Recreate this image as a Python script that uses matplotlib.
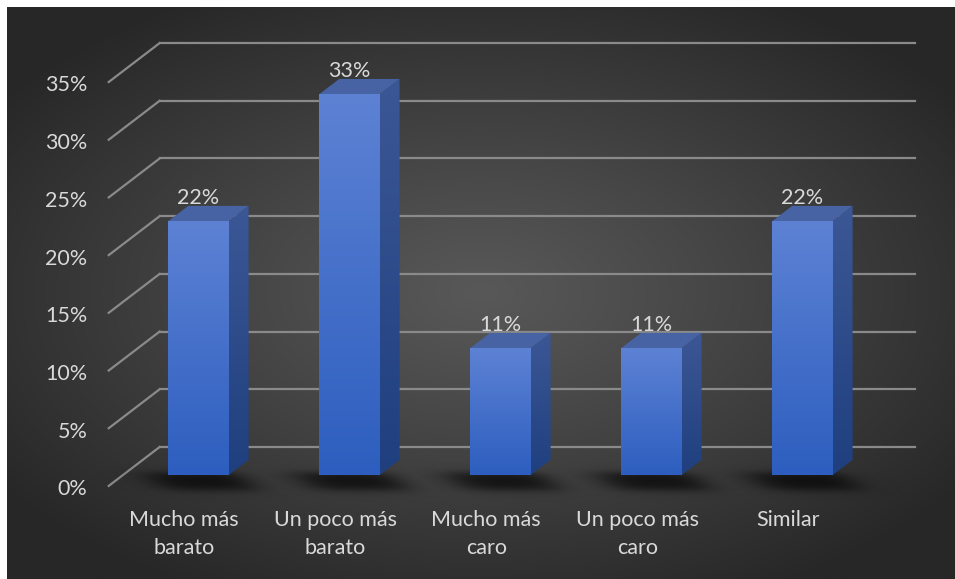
import numpy as np
import matplotlib.pyplot as plt
from matplotlib.patches import Polygon

categories = ["Mucho más\nbarato", "Un poco más\nbarato", "Mucho más\ncaro",
              "Un poco más\ncaro", "Similar"]
values = [22, 33, 11, 11, 22]
ticks = [0, 5, 10, 15, 20, 25, 30, 35]

plt.rcParams['font.family'] = ['Lato', 'DejaVu Sans']
text_color = "#d9d9d9"
grid_color = "#8a8a8a"

W, H = 955, 579
fig = plt.figure(figsize=(W / 100, H / 100), dpi=100, facecolor="white")

# dark radial backdrop
bg = fig.add_axes([7 / W, 0, (W - 7) / W, (H - 7) / H])
gx, gy = np.meshgrid(np.linspace(-1, 1, 400), np.linspace(-1, 1, 260))
r = np.clip(np.sqrt((gx * 1.0) ** 2 + (gy * 1.05) ** 2) / 1.25, 0, 1)
inner = np.array([0x58, 0x58, 0x58]) / 255
outer = np.array([0x27, 0x27, 0x27]) / 255
img = inner + (outer - inner) * r[..., None] ** 1.1
bg.imshow(img, aspect="auto", extent=[0, 1, 0, 1])
bg.axis("off")

# main axes: x in category units, y in percent on the bar front plane
cat_px = 151.0
pct_px = 11.54
x0_px, y0_px = 198.5, 104.0
ax = fig.add_axes([0, 0, 1, 1])
ax.set_xlim(-x0_px / cat_px, (W - x0_px) / cat_px)
ax.set_ylim(-y0_px / pct_px, (H - y0_px) / pct_px)
ax.axis("off")
ax.patch.set_alpha(0)

# oblique depth vector (one full depth unit)
DX = 51 / cat_px
DY = 39 / pct_px
d_front, d_back = -0.28, 0.72
bar_w, bar_d = 0.40, 0.39
left, right = -0.5, len(categories) - 0.5

# walls: gridlines on the back wall plus the left-side diagonals
for t in ticks:
    ax.plot([left + DX * d_back, right + DX * d_back],
            [t + DY * d_back, t + DY * d_back], color=grid_color, lw=1.6, zorder=1)
    ax.plot([left + DX * d_front, left + DX * d_back],
            [t + DY * d_front, t + DY * d_back], color=grid_color, lw=1.6, zorder=1)
    ax.text(left + DX * d_front - 0.14, t + DY * d_front - 0.3, f"{t}%",
            ha="right", va="center", fontsize=15.5, color=text_color)

# soft floor shadows under the bars
sx = np.linspace(-1.2, 5.0, 900)
sy = np.linspace(-4.0, 3.0, 200)
SX, SY = np.meshgrid(sx, sy)
depth = -SY / DY
floor_x = SX - DX * depth
alpha = np.zeros_like(SX)


def soft(v, w):
    return 1 / (1 + np.exp(-v / w))


for i in range(len(values)):
    a = (soft(floor_x - (i - bar_w / 2 - 0.15), 0.07)
         * soft((i + bar_w / 2 + 0.06) - floor_x, 0.06)
         * soft(depth - (-0.05), 0.05)
         * soft((bar_d + 0.0) - depth, 0.06))
    alpha = np.maximum(alpha, a)
shadow = np.zeros(SX.shape + (4,))
shadow[..., 3] = alpha * 0.7
ax.imshow(shadow, extent=[sx[0], sx[-1], sy[0], sy[-1]], origin="lower",
          aspect="auto", zorder=2, interpolation="bilinear")

front_top = np.array([0x5d, 0x82, 0xd4]) / 255
front_bot = np.array([0x2d, 0x5e, 0xbf]) / 255
side_top = np.array([0x3c, 0x57, 0x96]) / 255
side_bot = np.array([0x1f, 0x3f, 0x7e]) / 255
top_col = "#4763a3"

grad = np.linspace(0, 1, 256)[:, None, None]
front_img = front_top + (front_bot - front_top) * grad
side_img = side_top + (side_bot - side_top) * grad

for i, v in enumerate(values):
    x1, x2 = i - bar_w / 2, i + bar_w / 2
    ox, oy = DX * bar_d, DY * bar_d
    # right side face
    side = Polygon([(x2, 0), (x2 + ox, oy), (x2 + ox, v + oy), (x2, v)],
                   closed=True, facecolor="none", edgecolor="none", zorder=3)
    ax.add_patch(side)
    im = ax.imshow(np.repeat(side_img, 4, axis=1), extent=[x2, x2 + ox, 0, v + oy],
                   aspect="auto", zorder=3)
    im.set_clip_path(side)
    # top face
    ax.add_patch(Polygon([(x1, v), (x2, v), (x2 + ox, v + oy), (x1 + ox, v + oy)],
                         closed=True, facecolor=top_col, edgecolor="none", zorder=3))
    # front face
    ax.imshow(np.repeat(front_img, 4, axis=1), extent=[x1, x2, 0, v],
              aspect="auto", zorder=4)
    ax.text(i, v + oy + 0.2, f"{v}%", ha="center", va="baseline",
            fontsize=15.5, color=text_color, zorder=5)
    # category names sit on the front edge of the floor
    ax.text(i + DX * d_front, -3.0, categories[i], ha="center", va="top",
            fontsize=15.5, color=text_color, linespacing=1.5)

ax.set_xlim(-x0_px / cat_px, (W - x0_px) / cat_px)
ax.set_ylim(-y0_px / pct_px, (H - y0_px) / pct_px)

fig.savefig("out.png", dpi=100, facecolor=fig.get_facecolor())
